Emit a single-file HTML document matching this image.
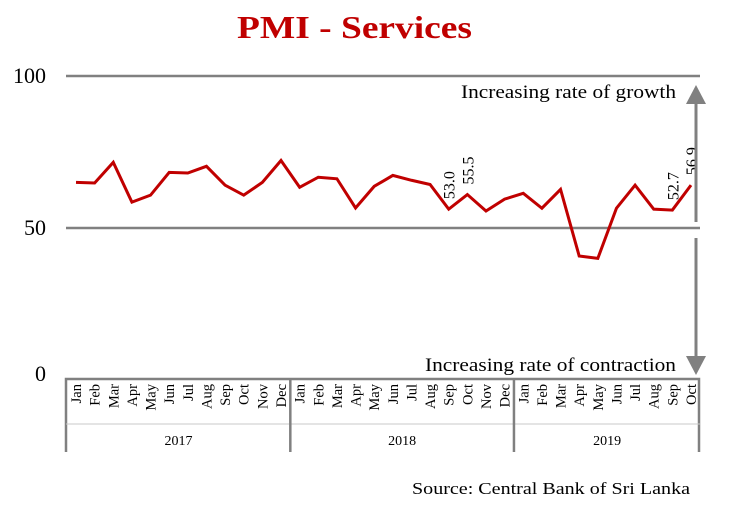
<!DOCTYPE html>
<html><head><meta charset="utf-8"><style>
body{margin:0;background:#fff;}
svg{display:block;font-family:"Liberation Serif",serif;}
</style></head><body>
<svg width="738" height="506" viewBox="0 0 738 506">
<text x="237" y="38" textLength="235" lengthAdjust="spacingAndGlyphs" font-size="32" font-weight="bold" fill="#c00000">PMI - Services</text>
<g id="grid"></g>
<g id="axis"></g>
<g id="series"></g>
<g>
<line x1="696" y1="100" x2="696" y2="222" stroke="#808080" stroke-width="3"/>
<polygon points="686,104 706,104 696,85" fill="#808080"/>
<line x1="696" y1="238" x2="696" y2="358" stroke="#808080" stroke-width="3"/>
<polygon points="686,356 706,356 696,375" fill="#808080"/>
</g>
<text x="461" y="98" textLength="215" lengthAdjust="spacingAndGlyphs" font-size="19" fill="#000">Increasing rate of growth</text>
<text x="425" y="371" textLength="251" lengthAdjust="spacingAndGlyphs" font-size="19" fill="#000">Increasing rate of contraction</text>
<text x="412" y="494" textLength="278" lengthAdjust="spacingAndGlyphs" font-size="17" fill="#000">Source: Central Bank of Sri Lanka</text>
</svg>
<script>
const months=["Jan","Feb","Mar","Apr","May","Jun","Jul","Aug","Sep","Oct","Nov","Dec","Jan","Feb","Mar","Apr","May","Jun","Jul","Aug","Sep","Oct","Nov","Dec","Jan","Feb","Mar","Apr","May","Jun","Jul","Aug","Sep","Oct"];
const years=["2017","2018","2019"];
const yearCounts=[12,12,10];
const values=[65.0,64.8,71.6,58.5,60.8,68.3,68.1,70.3,64.1,60.8,65.0,72.2,63.4,66.7,66.2,56.6,63.7,67.3,65.7,64.3,56.2,61.0,55.6,59.5,61.4,56.5,62.7,40.8,40.0,56.5,64.1,56.2,55.9,64.1];
const yTicks=[0,50,100];
const dataLabels=[{i:20,t:"53.0"},{i:21,t:"55.5"},{i:32,t:"52.7"},{i:33,t:"56.9"}];
const NS="http://www.w3.org/2000/svg";
const x0=76,x1=691,yZero=380,yHund=76,left=66,right=700;
function xs(i){return x0+(x1-x0)*i/(months.length-1);}
function ys(v){return yZero+(yHund-yZero)*v/100;}
function mk(tag,attrs,parent,text){const e=document.createElementNS(NS,tag);for(const k in attrs)e.setAttribute(k,attrs[k]);if(text!==undefined)e.textContent=text;document.getElementById(parent).appendChild(e);return e;}
yTicks.forEach(v=>{
  if(v>0){const l=mk("line",{x1:left,x2:right,y1:ys(v),y2:ys(v),stroke:"#808080","stroke-width":2.5},"grid");
  
  }
  const t=mk("text",{x:46,y:ys(v)+(v===0?1:7),"text-anchor":"end","font-size":22},"grid",String(v));
  
  
});
const ab=mk("path",{d:`M${left},452 V${yZero-1} H${right-1} V452`,fill:"none",stroke:"#808080","stroke-width":2.5},"axis");


mk("line",{x1:left,x2:right,y1:424,y2:424,stroke:"#c8c8c8","stroke-width":1},"axis");
let start=0;
const half=(x1-x0)/(months.length-1)/2;
yearCounts.forEach((c,k)=>{
  const a=xs(start)-half,b=xs(start+c-1)+half;
  if(k>0){const d=mk("line",{x1:a,x2:a,y1:yZero,y2:452,stroke:"#808080","stroke-width":2.5},"axis");
  
  }
  const t=mk("text",{x:(a+b)/2,y:445,"text-anchor":"middle","font-size":14},"axis",years[k]);
  
  
  start+=c;
});
months.forEach((m,i)=>{
  const t=mk("text",{transform:`translate(${xs(i)+5},384) rotate(-90)`,"text-anchor":"end","font-size":14.5},"axis",m);
  
  
});
const line=mk("polyline",{points:values.map((v,i)=>xs(i)+","+ys(v)).join(" "),fill:"none",stroke:"#c00000","stroke-width":3,"stroke-linejoin":"miter"},"series");


dataLabels.forEach(d=>{
  const t=mk("text",{transform:`translate(${xs(d.i)+6},${ys(values[d.i])-10}) rotate(-90)`,"font-size":16},"series",d.t);
  
  
});
</script>
</body></html>
